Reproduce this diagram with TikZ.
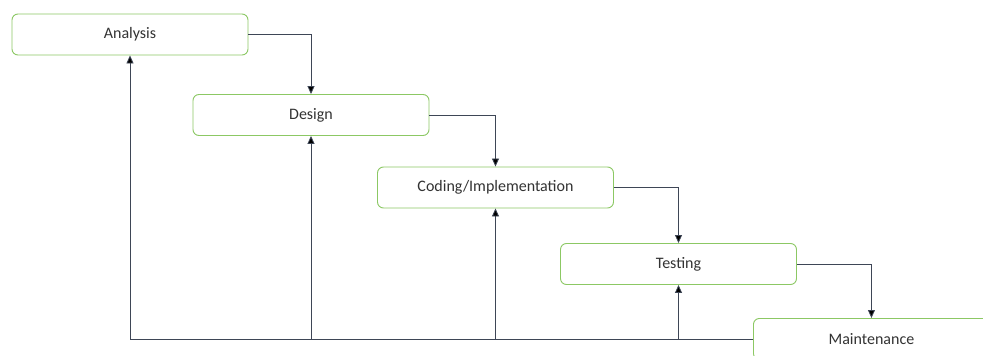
\documentclass[tikz,border=0pt]{standalone}
\usepackage{fontspec}
\setmainfont{Carlito}
\usetikzlibrary{arrows.meta}
\definecolor{boxgreen}{HTML}{8CC864}
\definecolor{linecol}{HTML}{3E4656}
\begin{document}
\begin{tikzpicture}[x=1pt,y=-1pt,
  stagebox/.style={draw=boxgreen, line width=0.9pt, rounded corners=6pt, fill=white,
    minimum width=236pt, minimum height=41pt, inner sep=0pt, font=\fontsize{16}{19}\selectfont, text=black!80},
  flow/.style={draw=linecol, line width=0.8pt, -{Triangle[width=7pt,length=8pt,fill=black]}},
  plainline/.style={draw=linecol, line width=0.8pt}]
\useasboundingbox (0,0) rectangle (983,356);
\fill[white] (0,0) rectangle (983,356);
\begin{scope}
\clip (0,0) rectangle (983,356);
\node[stagebox] (A) at (130,34.5) {Analysis};
\node[stagebox] (D) at (311,115) {Design};
\node[stagebox] (C) at (495.5,187.5) {Coding/Implementation};
\node[stagebox] (T) at (678.5,264) {Testing};
\node[stagebox, anchor=north west] (M) at (753,318) {Maintenance};
\draw[flow] (A.east) -| (D.north);
\draw[flow] (D.east) -| (C.north);
\draw[flow] (C.east) -| (T.north);
\draw[flow] (T.east) -| (M.north);
\draw[flow] (M.west) -| (A.south);
\draw[flow] (D.south |- M.west) -- (D.south);
\draw[flow] (C.south |- M.west) -- (C.south);
\draw[flow] (T.south |- M.west) -- (T.south);
\end{scope}
\end{tikzpicture}
\end{document}
